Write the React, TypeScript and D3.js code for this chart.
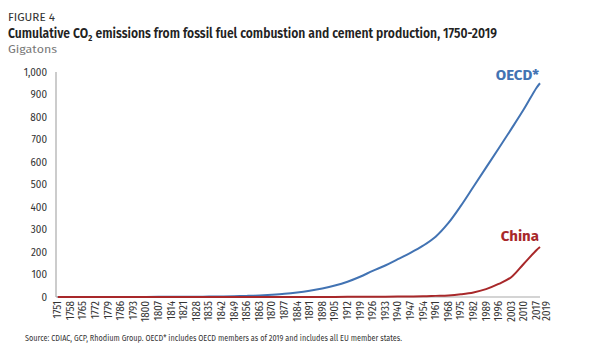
import React, { useEffect } from 'react';
import * as d3 from 'd3';

const years = [1751, 1758, 1765, 1772, 1779, 1786, 1793, 1800, 1807, 1814, 1821, 1828, 1835, 1842, 1849, 1856, 1863, 1870, 1877, 1884, 1891, 1898, 1905, 1912, 1919, 1926, 1933, 1940, 1947, 1954, 1961, 1968, 1975, 1982, 1989, 1996, 2003, 2010, 2017, 2019];
const oecd = [0, 0.1, 0.1, 0.2, 0.2, 0.3, 0.4, 0.5, 0.6, 0.8, 1, 1.4, 1.9, 2.6, 3.5, 5, 7, 10, 14, 20, 28, 38, 51, 68, 90, 116, 140, 168, 196, 228, 268, 328, 405, 490, 575, 660, 746, 834, 929, 950];
const china = [0, 0, 0, 0, 0, 0, 0, 0, 0, 0, 0, 0, 0, 0, 0, 0, 0, 0, 0, 0, 0.1, 0.2, 0.4, 0.6, 0.8, 1, 1.3, 1.7, 2.2, 3, 5, 7, 12, 20, 35, 58, 88, 148, 208, 222];
const yTicks = [0, 100, 200, 300, 400, 500, 600, 700, 800, 900, 1000];

const font = "'Fira Sans', 'Open Sans', 'Noto Sans', sans-serif";

const App = () => {
  useEffect(() => {
    document.body.style.margin = '0';
  }, []);

  const width = 596;
  const height = 350;

  const x = d3.scaleLinear().domain([1750, 2019]).range([56, 540]);
  const y = d3.scaleLinear().domain([0, 1000]).range([297, 72]);

  const line = (vals: number[]) =>
    d3.line<number>()
      .x((d, i) => x(years[i]))
      .y((d) => y(Math.max(0, d)))
      .curve(d3.curveCatmullRom.alpha(0.5))(vals) as string;

  const last = years.length - 1;

  return (
    <svg width={width} height={height} style={{ display: 'block', background: '#fff' }} fontFamily={font}>
      <text x={8} y={21} fontSize={10.5} fill="#333" textLength={47} lengthAdjust="spacingAndGlyphs">FIGURE 4</text>
      <text x={8} y={38} fontSize={13.5} fontWeight={600} fill="#222" textLength={489} lengthAdjust="spacingAndGlyphs">
        Cumulative CO₂ emissions from fossil fuel combustion and cement production, 1750-2019
      </text>
      <text x={8} y={53} fontSize={11} fill="#777" textLength={49} lengthAdjust="spacingAndGlyphs">Gigatons</text>

      {yTicks.map((t) => (
        <text key={t} x={47} y={y(t)} dy="0.35em" textAnchor="end" fontSize={10} fill="#333">
          {d3.format(',')(t)}
        </text>
      ))}

      <line x1={56} x2={56} y1={y(1000)} y2={y(0)} stroke="#aaa" strokeWidth={1.2} />
      <line x1={56} x2={x(2019)} y1={y(0)} y2={y(0)} stroke="#aaa" strokeWidth={1.2} />

      {years.map((yr, i) => {
        const px = x(yr) + (i === last ? 6 : 0);
        return (
          <text key={yr} transform={`translate(${px + 3.5},${y(0) + 4}) rotate(-90)`} textAnchor="end" fontSize={10} fill="#333">
            {yr}
          </text>
        );
      })}

      <path d={line(oecd)} fill="none" stroke="#4273b3" strokeWidth={2} />
      <path d={line(china)} fill="none" stroke="#a8282a" strokeWidth={2} />

      <text x={x(2019) - 1} y={y(oecd[last]) - 3} textAnchor="end" fontSize={15} fontWeight={700} fill="#4273b3">OECD*</text>
      <text x={x(2019) - 1} y={y(china[last]) - 6} textAnchor="end" fontSize={15} fontWeight={700} fill="#a8282a">China</text>

      <text x={25} y={341} fontSize={8.5} fill="#333" textLength={377} lengthAdjust="spacingAndGlyphs">
        Source: CDIAC, GCP, Rhodium Group. OECD* includes OECD members as of 2019 and includes all EU member states.
      </text>
    </svg>
  );
};

export default App;
